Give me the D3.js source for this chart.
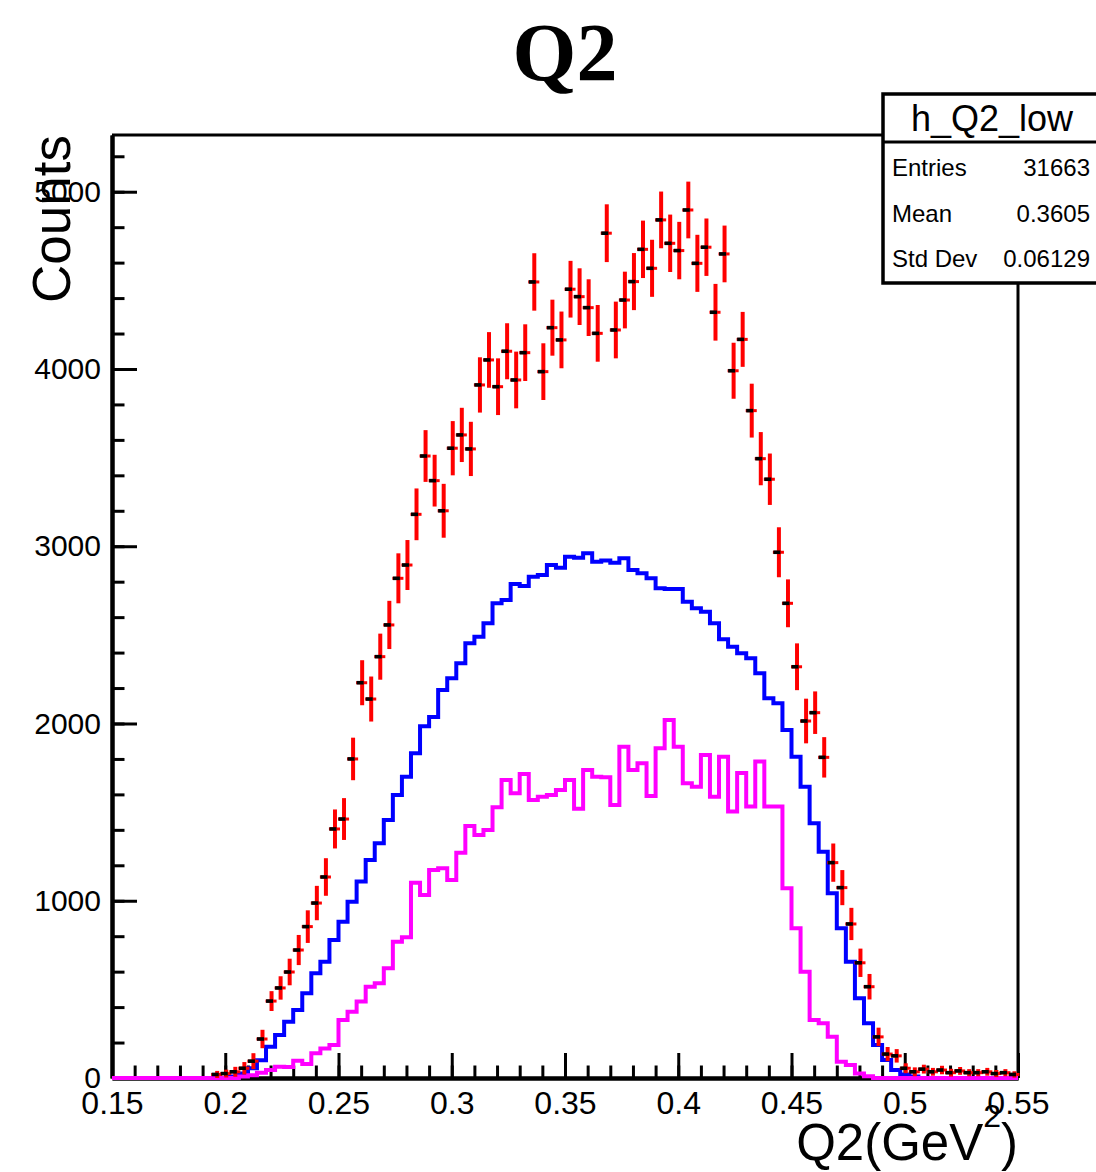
<!DOCTYPE html>
<html><head><meta charset="utf-8">
<script src="https://cdn.jsdelivr.net/npm/d3@7"></script>
<style>body{margin:0;background:#fff}svg{display:block}</style>
</head><body>
<svg id="c" width="1096" height="1172"></svg>
<script>
// Binning: 100 bins from 0.15 to 0.55
const xMin = 0.15, xMax = 0.55, nBins = 100;

// Data histogram (red points with errors)
const dataCounts = [
 0,0,0,0,0,0,0,0,0,0,
 0,20,25,35,55,95,220,434,508,598,
 722,854,987,1134,1405,1461,1800,2230,2138,2377,
 2556,2819,2894,3180,3509,3370,3200,3553,3628,3549,
 3910,4051,3900,4100,3938,4092,4491,3985,4233,4164,
 4450,4408,4346,4201,4766,4220,4389,4493,4675,4568,
 4841,4709,4668,4897,4596,4687,4320,4649,3990,4167,
 3765,3494,3378,2966,2678,2320,2014,2061,1809,1215,
 1074,869,650,515,232,135,125,55,35,50,
 35,45,30,40,30,30,35,25,30,20
];
const dataErrors = [
 0,0,0,0,0,0,0,0,0,0,
 0,20,22,28,35,45,52,56,66,75,
 85,92,97,106,110,118,120,127,127,130,
 136,141,141,146,146,146,152,153,153,153,
 156,157,160,158,160,160,162,160,158,160,
 160,160,160,160,163,160,160,161,162,161,
 160,162,162,160,161,162,160,160,158,155,
 152,150,145,141,135,132,126,120,114,108,
 99,91,80,72,52,40,38,28,25,25,
 22,24,22,22,20,20,22,20,20,18
];
// Blue histogram
const blueCounts = [
 0,0,0,0,0,0,0,0,0,0,
 0,0,0,8,25,55,100,177,243,318,
 384,478,591,656,779,882,995,1108,1230,1324,
 1456,1597,1700,1832,1984,2036,2189,2255,2340,2452,
 2490,2565,2678,2697,2787,2776,2828,2838,2894,2878,
 2941,2935,2960,2913,2919,2907,2932,2866,2847,2819,
 2763,2759,2759,2687,2650,2631,2565,2475,2433,2396,
 2368,2283,2142,2114,1963,1813,1643,1437,1277,1042,
 845,656,450,309,186,102,45,20,8,0,
 0,0,0,0,0,0,0,0,0,0
];
// Magenta histogram
const magentaCounts = [
 0,0,0,0,0,0,0,0,0,0,
 0,0,0,0,8,15,30,45,64,62,
 98,79,139,167,186,327,374,431,515,534,
 619,769,794,1102,1032,1173,1183,1117,1271,1422,
 1371,1399,1527,1681,1606,1715,1568,1587,1597,1625,
 1681,1519,1738,1700,1696,1540,1869,1738,1776,1591,
 1860,2020,1869,1663,1643,1822,1587,1813,1503,1720,
 1532,1786,1532,1532,1070,845,600,327,309,233,
 92,73,26,10,0,0,0,0,0,0,
 0,0,0,0,0,0,0,0,0,0
];

const xTickValues = [0.15,0.2,0.25,0.3,0.35,0.4,0.45,0.5,0.55];
const xTickLabels = ["0.15","0.2","0.25","0.3","0.35","0.4","0.45","0.5","0.55"];
const yTickValues = [0,1000,2000,3000,4000,5000];
const yTickLabels = ["0","1000","2000","3000","4000","5000"];
const statsNames = ["Entries","Mean","Std Dev"];
const statsValues = ["31663","0.3605","0.06129"];
const histName = "h_Q2_low";
const titleText = "Q2";

const svg = d3.select("#c");
const FONT = "'Liberation Sans', Arial, Helvetica, sans-serif";
const L = 112, R = 1018, T = 135, B = 1078;
const x = d3.scaleLinear().domain([xMin, xMax]).range([L, R]);
const y = d3.scaleLinear().domain([0, 5320]).range([B, T]);
const bw = (xMax - xMin) / nBins;
const edge = i => xMin + i * bw;

// Title
svg.append("text").attr("x", 565).attr("y", 80).attr("text-anchor","middle")
  .attr("font-family","'Liberation Serif','Times New Roman',serif").attr("font-weight","bold")
  .attr("font-size", 82).text(titleText);

// Frame top/right
svg.append("line").attr("x1", L).attr("x2", R).attr("y1", T).attr("y2", T)
  .attr("stroke","#000").attr("stroke-width",3);
svg.append("line").attr("x1", R).attr("x2", R).attr("y1", T).attr("y2", B)
  .attr("stroke","#000").attr("stroke-width",3);

// X axis
const gx = svg.append("g").attr("transform",`translate(0,${B})`);
gx.call(d3.axisBottom(x).tickValues(d3.range(0.15, 0.5501, 0.01)).tickSizeInner(-12.5).tickSizeOuter(0).tickFormat(""));
const gx2 = svg.append("g").attr("transform",`translate(0,${B})`);
gx2.call(d3.axisBottom(x).tickValues(xTickValues).tickSizeInner(-25).tickSizeOuter(0).tickPadding(13)
  .tickFormat((d,i)=>xTickLabels[i]));
[gx, gx2].forEach(g=>{
  g.selectAll(".tick line").attr("stroke","#000").attr("stroke-width",3);
  g.select(".domain").attr("stroke","#000").attr("stroke-width",4);
});
gx2.selectAll("text").attr("font-family",FONT).attr("font-size",32).attr("fill","#000");

// Y axis
const gy = svg.append("g").attr("transform",`translate(${L},0)`);
gy.call(d3.axisLeft(y).tickValues(d3.range(0, 5321, 200)).tickSizeInner(-12.5).tickSizeOuter(0).tickFormat(""));
const gy2 = svg.append("g").attr("transform",`translate(${L},0)`);
gy2.call(d3.axisLeft(y).tickValues(yTickValues).tickSizeInner(-25).tickSizeOuter(0).tickPadding(11)
  .tickFormat((d,i)=>yTickLabels[i]));
[gy, gy2].forEach(g=>{
  g.selectAll(".tick line").attr("stroke","#000").attr("stroke-width",3);
  g.select(".domain").attr("stroke","#000").attr("stroke-width",4);
});
gy2.selectAll("text").attr("font-family",FONT).attr("font-size",30).attr("fill","#000");

// Axis titles
const xt = svg.append("text").attr("x", R).attr("y", 1160).attr("text-anchor","end")
  .attr("font-family",FONT).attr("font-size",51).attr("fill","#000");
xt.append("tspan").text("Q2(GeV");
xt.append("tspan").attr("font-size",32).attr("dy",-33).text("2");
xt.append("tspan").attr("dy",33).text(")");

svg.append("text").attr("transform",`translate(70,${T}) rotate(-90)`).attr("text-anchor","end")
  .attr("font-family",FONT).attr("font-size",53).attr("fill","#000").text("Counts");

// Histograms
function stepPoints(arr){
  const pts = arr.map((v,i)=>[edge(i), v]);
  pts.push([edge(nBins), arr[nBins-1]]);
  return pts;
}
const line = d3.line().x(d=>x(d[0])).y(d=>y(d[1])).curve(d3.curveStepAfter);
svg.append("path").attr("d", line(stepPoints(blueCounts))).attr("fill","none")
  .attr("stroke","#0000ff").attr("stroke-width",4);
svg.append("path").attr("d", line(stepPoints(magentaCounts))).attr("fill","none")
  .attr("stroke","#ff00ff").attr("stroke-width",4);

// Data points with errors
const pts = dataCounts.map((v,i)=>({i, v, e: dataErrors[i], xc: xMin + (i+0.5)*bw})).filter(d=>d.v>0);
const gp = svg.append("g");
gp.selectAll("line.v").data(pts).join("line")
  .attr("x1",d=>x(d.xc)+1).attr("x2",d=>x(d.xc)+1)
  .attr("y1",d=>y(d.v - d.e)).attr("y2",d=>y(d.v + d.e))
  .attr("stroke","#ff0000").attr("stroke-width",4);
gp.selectAll("line.h").data(pts).join("line")
  .attr("x1",d=>x(d.xc - bw/2)-0.5).attr("x2",d=>x(d.xc + bw/2)+1.5)
  .attr("y1",d=>y(d.v)).attr("y2",d=>y(d.v))
  .attr("stroke","#ff0000").attr("stroke-width",3);
gp.selectAll("rect").data(pts).join("rect")
  .attr("x",d=>x(d.xc)-4.5).attr("y",d=>y(d.v)-1.8)
  .attr("width",7).attr("height",3.6).attr("fill","#000");

// Stats box
const sb = svg.append("g");
sb.append("rect").attr("x",883).attr("y",94).attr("width",230).attr("height",189)
  .attr("fill","#fff").attr("stroke","#000").attr("stroke-width",3.5);
sb.append("line").attr("x1",883).attr("x2",1100).attr("y1",142).attr("y2",142)
  .attr("stroke","#000").attr("stroke-width",3);
sb.append("text").attr("x",992).attr("y",131).attr("text-anchor","middle")
  .attr("font-family",FONT).attr("font-size",36).text(histName);
const rowY = [176, 222, 267];
statsNames.forEach((n,k)=>{
  sb.append("text").attr("x",892).attr("y",rowY[k]).attr("font-family",FONT).attr("font-size",24).text(n);
  sb.append("text").attr("x",1090).attr("y",rowY[k]).attr("text-anchor","end")
    .attr("font-family",FONT).attr("font-size",24).text(statsValues[k]);
});
</script>
</body></html>
